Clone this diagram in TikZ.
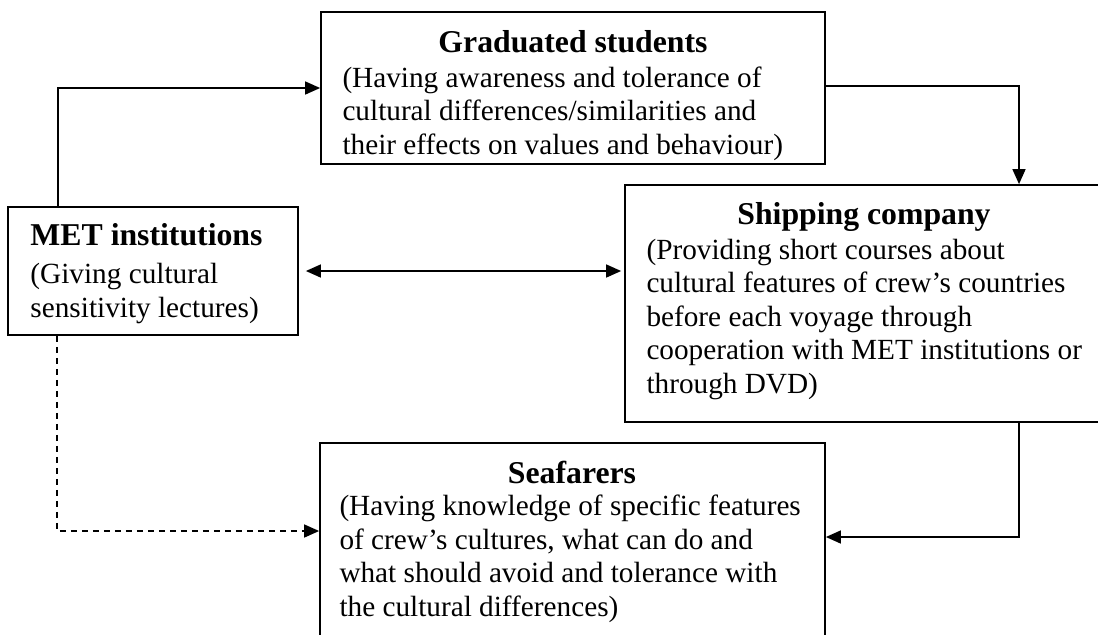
\documentclass[tikz,border=0pt]{standalone}
\usepackage{fontspec}
\setmainfont{Liberation Serif}
\usetikzlibrary{arrows.meta,fit}
\newcommand\bodyfnt{\fontsize{11.7}{13.4}\selectfont}
\newcommand\titlefnt{\fontsize{12.7}{15}\selectfont\bfseries}
\tikzset{
  box/.style={draw, line width=0.7pt, inner sep=0pt},
  ttl/.style={font=\titlefnt, inner sep=0pt, anchor=base},
  bodytxt/.style={font=\bodyfnt, inner sep=0pt, align=left, anchor=base west},
  conn/.style={line width=0.6pt, -{Triangle[length=6pt,width=5.2pt]}},
  dconn/.style={line width=0.6pt, {Triangle[length=6pt,width=5.2pt]}-{Triangle[length=6pt,width=5.2pt]}},
  dashconn/.style={conn, dash pattern=on 2.4pt off 2pt}
}
\begin{document}
\begin{tikzpicture}[x=0.4pt,y=-0.4pt]
\useasboundingbox (0,0) rectangle (1098,634);
\clip (0,0) rectangle (1098,634);
\fill[white] (0,0) rectangle (1098,634);
% boxes
\node[box, fit={(321,12) (825,164)}] (grad) {};
\node[box, fit={(8,207) (298,335)}] (met) {};
\node[box, fit={(625,185) (1104,422)}] (ship) {};
\node[box, fit={(320,443) (825,700)}] (sea) {};
% texts (body nodes anchored at the baseline of their last line)
\node[ttl] (gradT) at (573,52) {Graduated students};
\node[bodytxt] (gradB) at (342,154) {(Having awareness and tolerance of\\cultural differences/similarities and\\their effects on values and behaviour)};
\node[ttl, anchor=base west] (metT) at (30,245) {MET institutions};
\node[bodytxt] (metB) at (30,317) {(Giving cultural\\sensitivity lectures)};
\node[ttl] (shipT) at (864,224) {Shipping company};
\node[bodytxt] (shipB) at (646,393) {(Providing short courses about\\cultural features of crew’s countries\\before each voyage through\\cooperation with MET institutions or\\through DVD)};
\node[ttl] (seaT) at (572,483) {Seafarers};
\node[bodytxt] (seaB) at (339,616) {(Having knowledge of specific features\\of crew’s cultures, what can do and\\what should avoid and tolerance with\\the cultural differences)};
% bend coordinates
\coordinate (b1) at (58,88);
\coordinate (b2) at (1019,86);
\coordinate (b4) at (57,531);
\coordinate (b5) at (1019,537);
% connectors
\draw[conn] (met.north -| b1) |- (grad.west |- b1);
\draw[conn] (grad.east |- b2) -| (ship.north -| b2);
\draw[dconn, shorten <=2.8pt, shorten >=1.2pt] (met.east) -- (ship.west |- met.east);
\draw[dashconn] (met.south -| b4) |- (sea.west |- b4);
\draw[conn] (ship.south -| b5) |- (sea.east |- b5);
\end{tikzpicture}
\end{document}
